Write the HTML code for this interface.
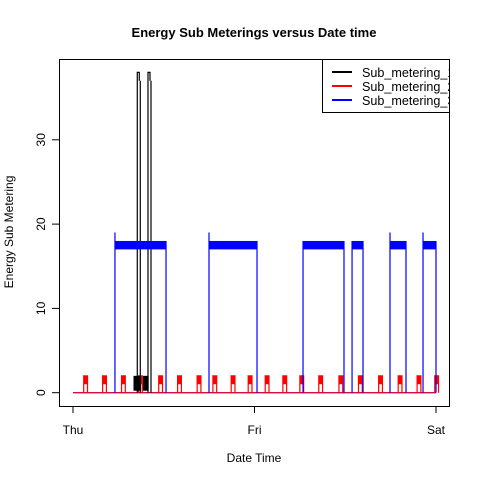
<!DOCTYPE html>
<html><head><meta charset="utf-8"><style>
body{margin:0;background:#fff;}
svg text{font-family:"Liberation Sans",Arial,sans-serif;}
</style></head><body>
<svg id="chart" width="480" height="480" xmlns="http://www.w3.org/2000/svg">
<rect width="480" height="480" fill="#fff"/>
<text x="254" y="37" font-size="13" font-weight="bold" text-anchor="middle">Energy Sub Meterings versus Date time</text>
<text x="254" y="462" font-size="12" text-anchor="middle">Date Time</text>
<text x="0" y="0" font-size="12" text-anchor="middle" transform="translate(13,232) rotate(-90)">Energy Sub Metering</text>
<g id="marks"></g>
<rect x="59.5" y="59.5" width="390" height="347" fill="none" stroke="#000"/>
<g id="axes"></g>
<g>
<rect x="322.5" y="59.5" width="127" height="53" fill="#fff" stroke="#000"/>
<line x1="332" y1="72" x2="352" y2="72" stroke="#000" stroke-width="2"/>
<line x1="332" y1="86" x2="352" y2="86" stroke="#f00" stroke-width="2"/>
<line x1="332" y1="100" x2="352" y2="100" stroke="#00f" stroke-width="2"/>
<svg x="0" y="0" width="449" height="480" overflow="hidden">
<text x="362" y="77" font-size="12.6">Sub_metering_1</text>
<text x="362" y="91" font-size="12.6">Sub_metering_2</text>
<text x="362" y="105" font-size="12.6">Sub_metering_3</text>
</svg>
</g>
</svg>
<script>
// data (minutes from Thu 00:00, 2880 total)
const xTickMinutes = [0, 1440, 2880];
const xTickLabels = ["Thu", "Fri", "Sat"];
const yTicks = [0, 10, 20, 30];
const sub3Start = [333, 1079, 1825, 2214, 2515, 2777];
const sub3End = [738, 1460, 2150, 2301, 2642, 2880];
const sub3Low = [17, 17, 17, 17, 17, 17];
const sub3High = [18, 18, 18, 18, 18, 18];
const sub3Peak = [19, 19, 18, 18, 19, 19];
const sub1SpikeMin = [510, 595];
const sub1SpikeVal = [38, 38];
const sub1BlockStart = [480, 555];
const sub1BlockEnd = [540, 600];
const sub1BlockVal = [2, 2];
const sub2PulseMin = [85, 235, 385, 520, 680, 830, 985, 1110, 1255, 1390, 1525, 1665, 1800, 1950, 2110, 2265, 2425, 2580, 2730, 2870];
const sub2PulseVal = [2, 2, 2, 2, 2, 2, 2, 2, 2, 2, 2, 2, 2, 2, 2, 2, 2, 2, 2, 2];

const NS = "http://www.w3.org/2000/svg";
const xs = m => 73 + m / 2880 * 363;
const ys = v => 392.7 - v * 8.43;
const marks = document.getElementById('marks');
const axes = document.getElementById('axes');
function mk(tag, attrs, parent) {
  const e = document.createElementNS(NS, tag);
  for (const k in attrs) e.setAttribute(k, attrs[k]);
  parent.appendChild(e);
  return e;
}
let base = mk('line', {x1: xs(0), x2: xs(2880), y1: ys(0), y2: ys(0), stroke: '#00f', 'stroke-width': 1.2}, marks);


sub2PulseMin.forEach((m, i) => {
  const x0 = xs(m), x1 = xs(m + 30), v = sub2PulseVal[i];
  const p = mk('path', {d: `M${x0},${ys(0)}V${ys(v)}H${x1}V${ys(0)}`, fill: 'none', stroke: '#f00', 'stroke-width': 1.2}, marks);
  
  
  const r = mk('rect', {x: x0, y: ys(v), width: x1 - x0, height: ys(v - 1) - ys(v), fill: '#f00'}, marks);
  
  
});
let rb = mk('line', {x1: xs(0), x2: xs(2880), y1: ys(0), y2: ys(0), stroke: '#f00', 'stroke-width': 1}, marks);


sub1BlockStart.forEach((m, i) => {
  const r = mk('rect', {x: xs(m), y: ys(sub1BlockVal[i]), width: xs(sub1BlockEnd[i]) - xs(m), height: ys(0) - ys(sub1BlockVal[i]) - 2, fill: '#000'}, marks);
  
  
});
sub1SpikeMin.forEach((m, i) => {
  const x = xs(m);
  const p = mk('path', {d: `M${x},${ys(0)}V${ys(sub1SpikeVal[i])}H${x + 2}V${ys(37)}M${x + 3},${ys(37)}V${ys(0)}`, fill: 'none', stroke: '#000', 'stroke-width': 1.2}, marks);
  
  
});
sub3Start.forEach((m, i) => {
  const x0 = xs(m), x1 = xs(sub3End[i]);
  const r = mk('rect', {x: x0, y: ys(sub3High[i]), width: x1 - x0, height: ys(sub3Low[i]) - ys(sub3High[i]), fill: '#00f'}, marks);
  
  
  const p = mk('path', {d: `M${x0},${ys(0)}V${ys(sub3Peak[i])}M${x1},${ys(0)}V${ys(sub3High[i])}`, fill: 'none', stroke: '#00f', 'stroke-width': 1.2}, marks);
  
  
});
yTicks.forEach(v => {
  const l = mk('line', {x1: 52, x2: 59, y1: ys(v), y2: ys(v), stroke: '#000'}, axes);
  
  
  const t = mk('text', {x: 0, y: 0, 'font-size': 12, 'text-anchor': 'middle', transform: `translate(45,${ys(v)}) rotate(-90)`}, axes);
  t.textContent = v;
  
  
});
let ya = mk('line', {x1: 59.5, x2: 59.5, y1: ys(0), y2: ys(30), stroke: '#000'}, axes);


xTickMinutes.forEach((m, i) => {
  const l = mk('line', {x1: xs(m), x2: xs(m), y1: 406, y2: 413, stroke: '#000'}, axes);
  
  
  const t = mk('text', {x: xs(m), y: 434, 'font-size': 12, 'text-anchor': 'middle'}, axes);
  t.textContent = xTickLabels[i];
  
  
});
let xa = mk('line', {x1: xs(0), x2: xs(2880), y1: 406.5, y2: 406.5, stroke: '#000'}, axes);


</script>
</body></html>
